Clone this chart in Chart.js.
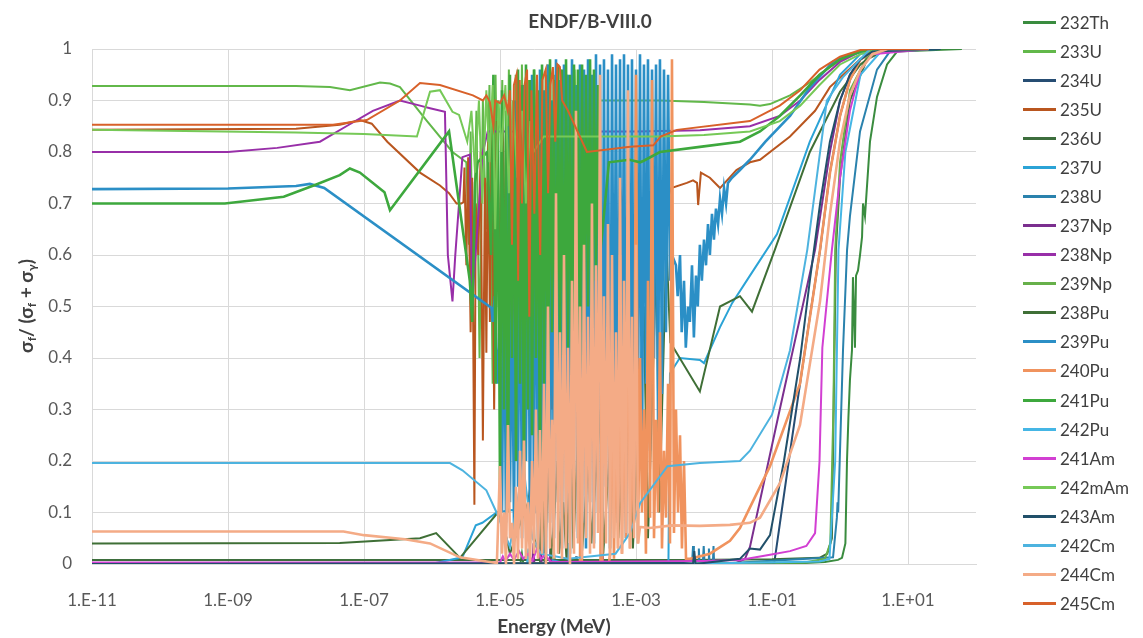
<!DOCTYPE html>
<html>
<head>
<meta charset="utf-8">
<script src="https://cdn.jsdelivr.net/npm/chart.js@4.4.1/dist/chart.umd.min.js"></script>
<style>
  html, body { margin: 0; padding: 0; background: #fff; }
  #wrap { position: relative; width: 1143px; height: 638px; }
  #chart { position: absolute; left: 0; top: 0; }
  .item { position: absolute; left: 1023px; height: 20px; display: flex; align-items: center;
          font: 17px Lato, "Noto Sans", sans-serif; color: #404040; white-space: nowrap; }
  .item span { display: inline-block; width: 33px; height: 3px; margin-right: 4px; }
</style>
</head>
<body>
<div id="wrap">
  <canvas id="chart" width="1143" height="638"></canvas>
  <div id="legend"></div>
</div>
<script>
const chartTitle = 'ENDF/B-VIII.0';
const xTitle = 'Energy (MeV)';
// sigma_f / (sigma_f + sigma_gamma), second item = subscript
const yTitleParts = [['σ', 0], ['f', 1], ['/ (σ', 0], ['f', 1], [' + σ', 0], ['γ', 1], [')', 0]];

const xTicks = [1e-11, 1e-9, 1e-7, 1e-5, 1e-3, 1e-1, 1e1];
const xTickLabels = ['1.E-11', '1.E-09', '1.E-07', '1.E-05', '1.E-03', '1.E-01', '1.E+01'];
const yTickLabels = ['0', '0.1', '0.2', '0.3', '0.4', '0.5', '0.6', '0.7', '0.8', '0.9', '1'];

const isotopes = ['232Th', '233U', '234U', '235U', '236U', '237U', '238U', '237Np', '238Np', '239Np',
  '238Pu', '239Pu', '240Pu', '241Pu', '242Pu', '241Am', '242mAm', '243Am', '242Cm', '244Cm', '245Cm'];
const lineColors = ['#3a8c3f', '#62b84a', '#264d73', '#b9561f', '#3d6e3d', '#2ba3d6', '#2a82ad', '#7b2f8f',
  '#982fa8', '#67b04a', '#3f6f36', '#2b8fc6', '#f0935e', '#3da83d', '#45b6e5', '#d23fd2', '#76c957',
  '#21506a', '#4db3df', '#f4ab86', '#d8612a'];
// series whose resonance region is drawn as a dense band
const denseSeries = ['239Pu', '240Pu', '241Pu', '244Cm'];

// energy grid (MeV) used by the dense resolved-resonance series
const resE = [
  1.00e-5, 1.07e-5, 1.145e-5, 1.225e-5, 1.31e-5, 1.40e-5, 1.50e-5, 1.61e-5, 1.72e-5, 1.84e-5, 1.97e-5, 2.11e-5,
  2.25e-5, 2.41e-5, 2.58e-5, 2.76e-5, 2.96e-5, 3.16e-5, 3.38e-5, 3.62e-5, 3.87e-5, 4.15e-5, 4.44e-5, 4.74e-5,
  5.08e-5, 5.44e-5, 5.82e-5, 6.22e-5, 6.66e-5, 7.13e-5, 7.62e-5, 8.16e-5, 8.73e-5, 9.35e-5,
  1.00e-4, 1.07e-4, 1.145e-4, 1.225e-4, 1.31e-4, 1.40e-4, 1.50e-4, 1.61e-4, 1.72e-4, 1.84e-4, 1.97e-4, 2.11e-4,
  2.25e-4, 2.41e-4, 2.58e-4, 2.76e-4, 2.96e-4, 3.16e-4, 3.38e-4, 3.62e-4, 3.87e-4, 4.15e-4, 4.44e-4, 4.74e-4,
  5.08e-4, 5.44e-4, 5.82e-4, 6.22e-4, 6.66e-4, 7.13e-4, 7.62e-4, 8.16e-4, 8.73e-4, 9.35e-4,
  1.00e-3, 1.07e-3, 1.145e-3, 1.225e-3, 1.31e-3, 1.40e-3, 1.50e-3, 1.61e-3, 1.72e-3, 1.84e-3, 1.97e-3, 2.11e-3,
  2.25e-3, 2.41e-3, 2.58e-3, 2.76e-3, 2.96e-3, 3.16e-3, 3.38e-3, 3.62e-3, 3.87e-3, 4.15e-3, 4.44e-3, 4.74e-3,
  5.08e-3, 5.44e-3, 5.82e-3
];

// [energy MeV, sigma_f/(sigma_f+sigma_g)]
const th232 = [[1e-11,0.001],[1e-6,0.001],[2.0e-5,0.001],[2.1e-5,0.02],[2.2e-5,0.001],[6.0e-5,0.001],[6.2e-5,0.025],
  [6.4e-5,0.001],[5e-3,0.001],[0.3,0.002],[0.6,0.004],[0.935,0.008],[1.07,0.012],[1.2,0.04],[1.267,0.2],[1.33,0.285],
  [1.4,0.357],[1.5,0.415],[1.55,0.557],[1.66,0.42],[1.72,0.56],[1.84,0.57],[1.97,0.6],[2.11,0.635],[2.18,0.7],
  [2.33,0.675],[2.76,0.82],[3.5,0.907],[4.92,0.97],[6.9,0.995],[62,1.0]];
const u233 = [[1e-11,0.928],[1e-8,0.928],[3.16e-8,0.926],[6.2e-8,0.92],[1.72e-7,0.935],[2.41e-7,0.933],[3.38e-7,0.926],
  [8.45e-7,0.86],[2.0e-6,0.80],[3.2e-6,0.78],[3.5e-6,0.62],[3.7e-6,0.84],[4.0e-6,0.55],[4.5e-6,0.88],[5.0e-6,0.40],
  [5.6e-6,0.90],[6.2e-6,0.65],[7.0e-6,0.93],[7.8e-6,0.35],[8.6e-6,0.95],[9.6e-6,0.50],[1.08e-5,0.94],[1.2e-5,0.30],
  [1.35e-5,0.96],[1.5e-5,0.45],[1.7e-5,0.95],[1.9e-5,0.38],[2.1e-5,0.97],[2.35e-5,0.52],[2.6e-5,0.94],[2.9e-5,0.42],
  [3.2e-5,0.96],[3.6e-5,0.55],[4.0e-5,0.95],[4.5e-5,0.48],[5.0e-5,0.97],[5.6e-5,0.58],[6.2e-5,0.95],[7.0e-5,0.50],
  [7.8e-5,0.96],[8.7e-5,0.62],[9.7e-5,0.95],[1.1e-4,0.55],[1.25e-4,0.96],[1.4e-4,0.60],[1.6e-4,0.94],[1.8e-4,0.65],
  [2.0e-4,0.93],[2.3e-4,0.70],[2.6e-4,0.90],[4.0e-4,0.90],[2.25e-3,0.90],[1e-2,0.897],[4.74e-2,0.892],[6.66e-2,0.89],
  [9.35e-2,0.893],[0.184,0.91],[0.36,0.935],[0.71,0.965],[1.4,0.99],[3.0,1.0],[20,1.0]];
const u234 = [[1e-11,0.0005],[1e-5,0.0005],[4.5e-5,0.0],[4.6e-5,0.02],[4.7e-5,0.0],[1.3e-4,0.0],[1.32e-4,0.015],
  [1.34e-4,0.0],[0.108,0.002],[0.2,0.25],[0.36,0.48],[0.51,0.61],[0.71,0.76],[1.0,0.87],[1.4,0.94],[2.0,0.98],
  [3.0,0.995],[30,1.0]];
const u235 = [[1e-11,0.843],[1e-8,0.845],[4.4e-8,0.853],[8.7e-8,0.862],[1.3e-7,0.855],[2.2e-7,0.82],[6.66e-7,0.76],
  [1.31e-6,0.735],[1.78e-6,0.72],[2.3e-6,0.70],[2.7e-6,0.70],[2.9e-6,0.703],[3.0e-6,0.77],[3.2e-6,0.58],[3.4e-6,0.79],
  [3.7e-6,0.45],[3.9e-6,0.75],[4.2e-6,0.115],[4.4e-6,0.70],[4.8e-6,0.60],[5.2e-6,0.80],[5.6e-6,0.24],[6.0e-6,0.75],
  [6.3e-6,0.41],[6.7e-6,0.82],[7.1e-6,0.47],[7.6e-6,0.85],[8.2e-6,0.30],[9.0e-6,0.86],[1.0e-5,0.55],[1.1e-5,0.88],
  [1.25e-5,0.31],[1.35e-5,0.85],[1.5e-5,0.285],[1.65e-5,0.87],[1.85e-5,0.40],[2.0e-5,0.84],[2.3e-5,0.21],[2.5e-5,0.86],
  [2.8e-5,0.50],[3.1e-5,0.83],[3.5e-5,0.35],[3.9e-5,0.85],[4.4e-5,0.45],[5.0e-5,0.82],[5.8e-5,0.30],[6.5e-5,0.80],
  [7.6e-5,0.19],[8.5e-5,0.78],[1.0e-4,0.40],[1.2e-4,0.75],[1.5e-4,0.35],[1.8e-4,0.72],[2.2e-4,0.50],[3.0e-4,0.70],
  [4.0e-4,0.45],[6.0e-4,0.72],[9.0e-4,0.55],[1.5e-3,0.70],[2.2e-3,0.62],[2.9e-3,0.71],[3.3e-3,0.73],[5.6e-3,0.74],
  [6.9e-3,0.745],[7.9e-3,0.74],[8.2e-3,0.697],[9.0e-3,0.76],[1.22e-2,0.75],[1.72e-2,0.73],[3.0e-2,0.765],
  [4.74e-2,0.78],[6.66e-2,0.785],[0.184,0.83],[0.43,0.88],[0.71,0.926],[1.97,0.98],[3.87,1.0],[20,1.0]];
const u236 = [[1e-11,0.008],[5e-3,0.008],[0.1,0.009],[0.5,0.012],[0.65,0.02],[0.76,0.05],[0.79,0.22],[0.87,0.61],
  [1.0,0.75],[1.4,0.9],[2.5,0.98],[5,1.0],[20,1.0]];
const u237 = [[1e-11,0.0005],[1e-6,0.0005],[2.8e-6,0.013],[4.4e-6,0.075],[5.5e-6,0.08],[8.9e-6,0.10],[1.5e-5,0.105],
  [2.0e-5,0.10],[2.2e-5,0.15],[2.3e-5,0.10],[3.0e-5,0.10],[3.2e-5,0.16],[3.3e-5,0.10],[4.0e-5,0.105],[4.3e-5,0.02],
  [5e-5,0.01],[1e-4,0.0],[3.0e-3,0.0],[3.16e-3,0.37],[4.4e-3,0.40],[8.7e-3,0.396],[1.0e-2,0.39],[1.72e-2,0.46],
  [2.6e-2,0.507],[4.74e-2,0.56],[0.118,0.64],[0.36,0.82],[1.0,0.95],[2.0,0.99],[3.87,1.0],[20,1.0]];
const u238 = [[1e-11,0.0002],[6.66e-3,0.0],[6.9e-3,0.035],[7.1e-3,0.0],[8.2e-3,0.0],[8.4e-3,0.03],[8.6e-3,0.0],
  [9.6e-3,0.0],[9.9e-3,0.035],[1.02e-2,0.0],[1.15e-2,0.0],[1.18e-2,0.03],[1.21e-2,0.0],[1.35e-2,0.0],[1.38e-2,0.035],
  [1.41e-2,0.0],[0.79,0.013],[0.9,0.09],[0.92,0.12],[0.94,0.1],[1.107,0.415],[1.27,0.61],[1.4,0.675],[1.97,0.84],
  [3.5,0.96],[5.4,0.995],[29.6,1.0]];
const np237 = [[1e-11,0.0003],[3.0e-5,0.0],[3.1e-5,0.04],[3.2e-5,0.0],[3.9e-5,0.0],[4.0e-5,0.05],[4.1e-5,0.0],
  [5.4e-5,0.0],[5.5e-5,0.03],[5.6e-5,0.0],[1.0e-4,0.0],[1.02e-4,0.04],[1.04e-4,0.0],[3.1e-4,0.0],[3.2e-4,0.03],
  [3.3e-4,0.0],[3.0e-2,0.002],[4.0e-2,0.01],[4.74e-2,0.033],[0.13,0.3],[0.43,0.61],[0.71,0.8],[1.0,0.9],[1.4,0.95],
  [2.0,0.98],[3.0,0.995],[20,1.0]];
const np238 = [[1e-11,0.80],[1e-9,0.80],[5.3e-9,0.808],[2.25e-8,0.82],[5.5e-8,0.85],[1.35e-7,0.88],[3.38e-7,0.90],
  [6.66e-7,0.89],[9.35e-7,0.885],[1.55e-6,0.878],[1.71e-6,0.6],[2.0e-6,0.51],[2.2e-6,0.6],[2.8e-6,0.79],[3.6e-6,0.795],
  [3.9e-6,0.5],[4.1e-6,0.55],[5.6e-6,0.80],[6.6e-6,0.84],[1e-3,0.84],[8.7e-3,0.842],[4.74e-2,0.85],[0.13,0.87],
  [0.26,0.90],[0.5,0.94],[1.0,0.975],[2.0,0.995],[3.87,1.0],[20,1.0]];
const np239 = [[1e-11,0.001],[1e-3,0.001],[0.3,0.003],[0.6,0.01],[0.72,0.04],[0.8,0.3],[0.85,0.61],[1.0,0.78],
  [1.4,0.92],[2.5,0.985],[5,1.0],[20,1.0]];
const pu238 = [[1e-11,0.04],[4.4e-8,0.041],[6.66e-7,0.05],[1.15e-6,0.06],[2.58e-6,0.012],[9.3e-6,0.10],[1.2e-5,0.06],
  [1.4e-5,0.02],[2.0e-5,0.08],[2.6e-5,0.12],[3.0e-5,0.18],[3.2e-5,0.05],[3.8e-5,0.01],[4.2e-5,0.15],[4.6e-5,0.02],
  [5.2e-5,0.19],[5.6e-5,0.01],[6.2e-5,0.08],[7e-5,0.2],[7.4e-5,0.02],[8.5e-5,0.12],[9.5e-5,0.01],[1.1e-4,0.25],
  [1.2e-4,0.03],[1.5e-4,0.35],[1.6e-4,0.02],[2.0e-4,0.2],[2.2e-4,0.04],[3e-4,0.3],[3.3e-4,0.02],[5e-4,0.4],
  [5.5e-4,0.05],[8e-4,0.45],[9e-4,0.03],[1.3e-3,0.5],[1.5e-3,0.05],[2.0e-3,0.6],[2.2e-3,0.1],[2.8e-3,0.62],
  [3.2e-3,0.43],[8.7e-3,0.335],[1.72e-2,0.50],[3.38e-2,0.52],[5.08e-2,0.49],[0.11,0.61],[0.36,0.80],[1.0,0.917],
  [2.0,0.97],[3.87,1.0],[20,1.0]];
const pu239Pre = [[1e-11,0.728],[1e-9,0.729],[1e-8,0.734],[1.6e-8,0.738],[2.6e-8,0.73],[7.5e-6,0.497],[7.8e-6,0.47],
  [8.4e-6,0.52],[9.2e-6,0.35]];
const pu239Res = [0.45, 0.10, 0.62, 0.08, 0.85, 0.12, 0.55, 0.06, 0.90, 0.15, 0.70,
  0.05, 0.93, 0.20, 0.80, 0.04, 0.95, 0.10, 0.88, 0.03, 0.96,
  0.15, 0.92, 0.02, 0.97, 0.08, 0.90, 0.05, 0.98, 0.12, 0.94,
  0.03, 0.97, 0.10, 0.95, 0.02, 0.98, 0.18, 0.93, 0.05, 0.97,
  0.08, 0.96, 0.03, 0.98, 0.12, 0.95, 0.04, 0.99, 0.10, 0.97,
  0.06, 0.98, 0.15, 0.96, 0.03, 0.99, 0.20, 0.97, 0.08, 0.98,
  0.12, 0.99, 0.05, 0.97, 0.25, 0.98, 0.10, 0.96, 0.30, 0.99,
  0.18, 0.97, 0.35, 0.98, 0.22, 0.96, 0.40, 0.97, 0.28, 0.98,
  0.33, 0.96, 0.45, 0.95, 0.55, 0.60];
const pu239Post = [[3.87e-3,0.58],[4.1e-3,0.52],[4.44e-3,0.60],[4.7e-3,0.45],[5.08e-3,0.55],[5.4e-3,0.42],
  [5.82e-3,0.50],[6.2e-3,0.47],[6.66e-3,0.58],[7.1e-3,0.44],[7.62e-3,0.56],[8.1e-3,0.50],[8.7e-3,0.62],[9.3e-3,0.55],
  [1.0e-2,0.63],[1.07e-2,0.58],[1.145e-2,0.66],[1.22e-2,0.60],[1.31e-2,0.68],[1.4e-2,0.63],[1.5e-2,0.69],
  [1.61e-2,0.66],[1.72e-2,0.71],[1.84e-2,0.68],[1.97e-2,0.73],[2.11e-2,0.70],[2.25e-2,0.74],[2.58e-2,0.75],
  [3.38e-2,0.765],[4.74e-2,0.785],[0.08,0.82],[0.184,0.87],[0.36,0.925],[0.79,0.975],[1.4,0.99],[3.87,1.0],[20,1.0]];
const pu240Pre = [[1e-11,0.0005],[5e-5,0.0005],[1.5e-4,0.0],[1.55e-4,0.25],[1.6e-4,0.0],[3.0e-4,0.0],[3.1e-4,0.4],
  [3.2e-4,0.0],[4.0e-4,0.0]];
const pu240Res = [0.02, 0.45, 0.01, 0.30, 0.03, 0.60, 0.02, 0.38, 0.05, 0.70,
  0.03, 0.25, 0.08, 0.95, 0.04, 0.40, 0.10, 0.30, 0.02, 0.55,
  0.09, 0.94, 0.05, 0.28, 0.10, 0.45, 0.03, 0.22, 0.09, 0.35,
  0.04, 0.98, 0.06, 0.30, 0.10, 0.25, 0.03, 0.20, 0.01];
const pu240Post = [[6.22e-3,0.01],[1.22e-2,0.02],[2.41e-2,0.045],[3.38e-2,0.07],[4.74e-2,0.11],[9.35e-2,0.19],
  [0.258,0.35],[0.508,0.61],[0.713,0.76],[1.0,0.87],[1.4,0.94],[2.0,0.98],[3.0,0.995],[20,1.0]];
const pu241Pre = [[1e-11,0.70],[9e-10,0.70],[6.6e-9,0.713],[1.9e-8,0.736],[4.4e-8,0.755],[6.2e-8,0.768],[8.7e-8,0.76],
  [2.0e-7,0.722],[2.41e-7,0.687],[1.78e-6,0.84],[3.6e-6,0.55],[3.9e-6,0.47],[4.3e-6,0.74],[4.7e-6,0.78],[5.5e-6,0.79],
  [6.5e-6,0.80],[7.4e-6,0.6],[8.0e-6,0.95],[8.6e-6,0.35],[9.3e-6,0.9]];
const pu241Res = [0.15, 0.92, 0.30, 0.88, 0.10, 0.95, 0.40, 0.90, 0.20, 0.96, 0.35,
  0.93, 0.12, 0.97, 0.30, 0.94, 0.25, 0.96, 0.40, 0.92, 0.15,
  0.97, 0.35, 0.95, 0.28, 0.98, 0.45, 0.94, 0.32, 0.97, 0.40,
  0.96, 0.30, 0.98, 0.42, 0.95, 0.35, 0.97, 0.48, 0.96, 0.38,
  0.97, 0.45, 0.95, 0.50, 0.98, 0.42, 0.96, 0.55, 0.93, 0.60];
const pu241Post = [[4.0e-4,0.78],[8e-4,0.785],[1.15e-3,0.78],[1.3e-3,0.783],[2.25e-3,0.80],[8.7e-3,0.81],
  [3.38e-2,0.82],[6.66e-2,0.84],[0.13,0.87],[0.26,0.91],[0.5,0.95],[1.0,0.98],[2.0,0.995],[3.87,1.0],[20,1.0]];
const pu242 = [[1e-11,0.0008],[1e-5,0.0008],[2.5e-5,0.0],[2.6e-5,0.03],[2.7e-5,0.0],[1.0e-4,0.0],[1.03e-4,0.04],
  [1.06e-4,0.0],[1e-2,0.001],[0.5,0.005],[0.7,0.01],[0.85,0.2],[0.95,0.61],[1.2,0.8],[2,0.95],[4,0.995],[20,1.0]];
const am241 = [[1e-11,0.003],[1e-5,0.003],[1.1e-5,0.015],[1.2e-5,0.005],[1.4e-5,0.02],[1.6e-5,0.008],[1.9e-5,0.025],
  [2.2e-5,0.01],[2.6e-5,0.02],[3.0e-5,0.006],[3.5e-5,0.03],[4.0e-5,0.01],[4.6e-5,0.018],[5.5e-5,0.005],[7e-5,0.004],
  [1e-3,0.005],[1e-2,0.006],[3.38e-2,0.008],[9.35e-2,0.018],[0.184,0.025],[0.32,0.035],[0.43,0.06],[0.5,0.2],
  [0.55,0.42],[0.76,0.61],[1.0,0.75],[1.4,0.88],[2.0,0.96],[3.0,0.99],[20,1.0]];
const am242m = [[1e-11,0.843],[1e-8,0.838],[1e-7,0.835],[6.0e-7,0.83],[9.35e-7,0.917],[1.31e-6,0.92],[2.0e-6,0.878],
  [2.5e-6,0.872],[3.3e-6,0.82],[3.8e-6,0.88],[4.3e-6,0.76],[4.9e-6,0.90],[5.5e-6,0.70],[6.3e-6,0.92],[7.0e-6,0.78],
  [7.8e-6,0.93],[8.5e-6,0.65],[9.5e-6,0.90],[1.05e-5,0.80],[1.2e-5,0.93],[1.35e-5,0.72],[1.55e-5,0.90],[1.8e-5,0.75],
  [2.1e-5,0.88],[2.4e-5,0.70],[2.8e-5,0.86],[3.1e-5,0.80],[4.4e-5,0.83],[2.25e-3,0.83],[1e-2,0.833],[4.74e-2,0.84],
  [0.13,0.86],[0.26,0.89],[0.5,0.93],[1.0,0.97],[2.0,0.99],[3.87,1.0],[20,1.0]];
const am243 = [[1e-11,0.0],[5e-3,0.002],[6.9e-3,0.0],[7.2e-3,0.025],[7.5e-3,0.0],[1.0e-2,0.002],[3.38e-2,0.01],
  [4.74e-2,0.03],[6.66e-2,0.028],[9.35e-2,0.056],[0.15,0.2],[0.26,0.4],[0.36,0.55],[0.51,0.7],[0.71,0.82],[1.0,0.9],
  [1.4,0.95],[2.0,0.98],[3.0,0.995],[30,1.0]];
const cm242 = [[1e-11,0.196],[1.84e-6,0.196],[2.8e-6,0.182],[6.3e-6,0.143],[8.9e-6,0.10],[1.4e-5,0.033],[1.8e-5,0.12],
  [2.2e-5,0.196],[2.4e-5,0.15],[3.0e-5,0.05],[4e-5,0.02],[1e-4,0.01],[5e-4,0.02],[8.17e-4,0.06],[1.15e-3,0.118],
  [2.9e-3,0.19],[8.7e-3,0.196],[3.38e-2,0.20],[4.74e-2,0.22],[0.1,0.29],[0.184,0.415],[0.33,0.61],[0.64,0.90],
  [1.1,0.945],[2.76,1.0],[20,1.0]];
const cm244Pre = [[1e-11,0.063],[5e-8,0.063],[1e-7,0.056],[4e-7,0.048],[9.35e-7,0.04],[2.58e-6,0.013],[7.1e-6,0.004],
  [9e-6,0.002]];
const cm244Res = [0.19, 0.02, 0.10, 0.0, 0.27, 0.05, 0.08, 0.0, 0.15, 0.01, 0.22,
  0.03, 0.24, 0.01, 0.12, 0.0, 0.20, 0.02, 0.30, 0.01, 0.26,
  0.02, 0.35, 0.0, 0.50, 0.03, 0.28, 0.01, 0.72, 0.02, 0.45,
  0.01, 0.60, 0.03, 0.42, 0.0, 0.55, 0.02, 0.88, 0.04, 0.50,
  0.01, 0.62, 0.05, 0.48, 0.02, 0.70, 0.03, 0.58, 0.06, 0.95,
  0.02, 0.52, 0.04, 0.66, 0.01, 0.60, 0.05, 0.45, 0.03, 0.75,
  0.02, 0.55, 0.06, 0.92, 0.03, 0.48, 0.05, 0.62, 0.04, 0.072];
const cm244Post = [[1.6e-3,0.07],[3.4e-3,0.075],[8.7e-3,0.074],[2.4e-2,0.076],[4.74e-2,0.08],[6.66e-2,0.09],
  [0.131,0.157],[0.258,0.27],[0.508,0.51],[0.713,0.68],[1.0,0.82],[1.4,0.91],[2.0,0.96],[3.0,0.99],[5.0,1.0],[20,1.0]];
const cm245 = [[1e-11,0.853],[3.5e-8,0.853],[1.1e-7,0.862],[3.38e-7,0.90],[6.66e-7,0.934],[1.31e-6,0.93],[4.0e-6,0.91],
  [5.6e-6,0.90],[6.3e-6,0.91],[7.1e-6,0.897],[8.0e-6,0.85],[8.5e-6,0.90],[1.0e-5,0.895],[1.15e-5,0.91],[1.3e-5,0.88],
  [1.4e-5,0.92],[1.5e-5,0.62],[1.6e-5,0.93],[1.75e-5,0.95],[1.85e-5,0.55],[1.95e-5,0.94],[2.1e-5,0.70],[2.3e-5,0.93],
  [2.5e-5,0.96],[2.7e-5,0.48],[2.9e-5,0.92],[3.2e-5,0.68],[3.5e-5,0.95],[3.9e-5,0.60],[4.2e-5,0.94],[4.7e-5,0.96],
  [5.1e-5,0.72],[5.5e-5,0.93],[6.0e-5,0.965],[6.5e-5,0.82],[7.0e-5,0.97],[7.6e-5,0.965],[8.2e-5,0.90],[1.0e-4,0.88],
  [1.9e-4,0.80],[8.2e-4,0.81],[1.8e-3,0.813],[2.3e-3,0.83],[4.0e-3,0.843],[4.74e-2,0.86],[0.13,0.89],[0.26,0.92],
  [0.5,0.96],[1.0,0.985],[2.0,0.998],[3.0,1.0],[20,1.0]];

const pts = pairs => pairs.map(([x, y]) => ({ x, y }));
const onGrid = (start, vals) => vals.map((y, i) => ({ x: resE[start + i], y }));

const seriesPoints = [
  pts(th232), pts(u233), pts(u234), pts(u235), pts(u236), pts(u237), pts(u238),
  pts(np237), pts(np238), pts(np239), pts(pu238),
  pts(pu239Pre).concat(onGrid(0, pu239Res), pts(pu239Post)),
  pts(pu240Pre).concat(onGrid(55, pu240Res), pts(pu240Post)),
  pts(pu241Pre).concat(onGrid(0, pu241Res), pts(pu241Post)),
  pts(pu242), pts(am241), pts(am242m), pts(am243), pts(cm242),
  pts(cm244Pre).concat(onGrid(0, cm244Res), pts(cm244Post)),
  pts(cm245)
];

const tickFont = { family: 'Lato, "Noto Sans", sans-serif', size: 17 };
const gridColor = '#d9d9d9';

// titles drawn by hand so the y title can carry subscripts
const titlePlugin = {
  id: 'titles',
  afterDraw(chart) {
    const ctx = chart.ctx;
    ctx.save();
    ctx.fillStyle = '#404040';
    ctx.textAlign = 'center';
    ctx.textBaseline = 'middle';
    ctx.font = 'bold 19px Lato, "Noto Sans", sans-serif';
    ctx.fillText(chartTitle, 590, 22);
    ctx.fillText(xTitle, 554, 627);

    const big = 'bold 19px Lato, "DejaVu Sans", sans-serif';
    const small = 'bold 12px Lato, "DejaVu Sans", sans-serif';
    ctx.translate(27, 306);
    ctx.rotate(-Math.PI / 2);
    let total = 0;
    yTitleParts.forEach(([t, sub]) => { ctx.font = sub ? small : big; total += ctx.measureText(t).width; });
    let x = -total / 2;
    ctx.textAlign = 'left';
    yTitleParts.forEach(([t, sub]) => {
      ctx.font = sub ? small : big;
      ctx.fillText(t, x, sub ? 5 : 0);
      x += ctx.measureText(t).width;
    });
    ctx.restore();
  }
};

const chart = new Chart(document.getElementById('chart'), {
  type: 'line',
  data: {
    datasets: isotopes.map((label, i) => ({
      label,
      data: seriesPoints[i],
      borderColor: lineColors[i],
      backgroundColor: lineColors[i],
      borderWidth: denseSeries.includes(label) ? 2.6 : 2,
      pointRadius: 0,
      tension: 0,
      fill: false,
      order: isotopes.length - i   // later series on top, like the original
    }))
  },
  options: {
    responsive: false,
    animation: false,
    layout: { padding: { top: 49, right: 167, bottom: 0, left: 0 } },
    plugins: { legend: { display: false }, tooltip: { enabled: false } },
    scales: {
      x: {
        type: 'logarithmic',
        min: 1e-11,
        max: 100,
        afterBuildTicks: s => { s.ticks = xTicks.map(value => ({ value })); },
        afterFit: s => { s.height = 74; },
        ticks: { autoSkip: false, maxRotation: 0, padding: 26, font: tickFont, color: '#595959',
                 callback: (v, i) => xTickLabels[i] },
        grid: { color: gridColor, drawTicks: false },
        border: { color: gridColor }
      },
      y: {
        min: 0,
        max: 1,
        afterFit: s => { s.width = 92; },
        ticks: { stepSize: 0.1, padding: 20, font: tickFont, color: '#595959',
                 callback: (v, i) => yTickLabels[i] },
        grid: { color: gridColor, drawTicks: false },
        border: { color: gridColor }
      }
    }
  },
  plugins: [titlePlugin]
});

// legend on the right, built from the datasets
const legend = document.getElementById('legend');
chart.data.datasets.forEach((ds, i) => {
  const item = document.createElement('div');
  item.className = 'item';
  item.style.top = (12 + i * 29.08) + 'px';
  item.innerHTML = '<span style="background:' + ds.borderColor + '"></span>' + ds.label;
  legend.appendChild(item);
});
</script>
</body>
</html>
